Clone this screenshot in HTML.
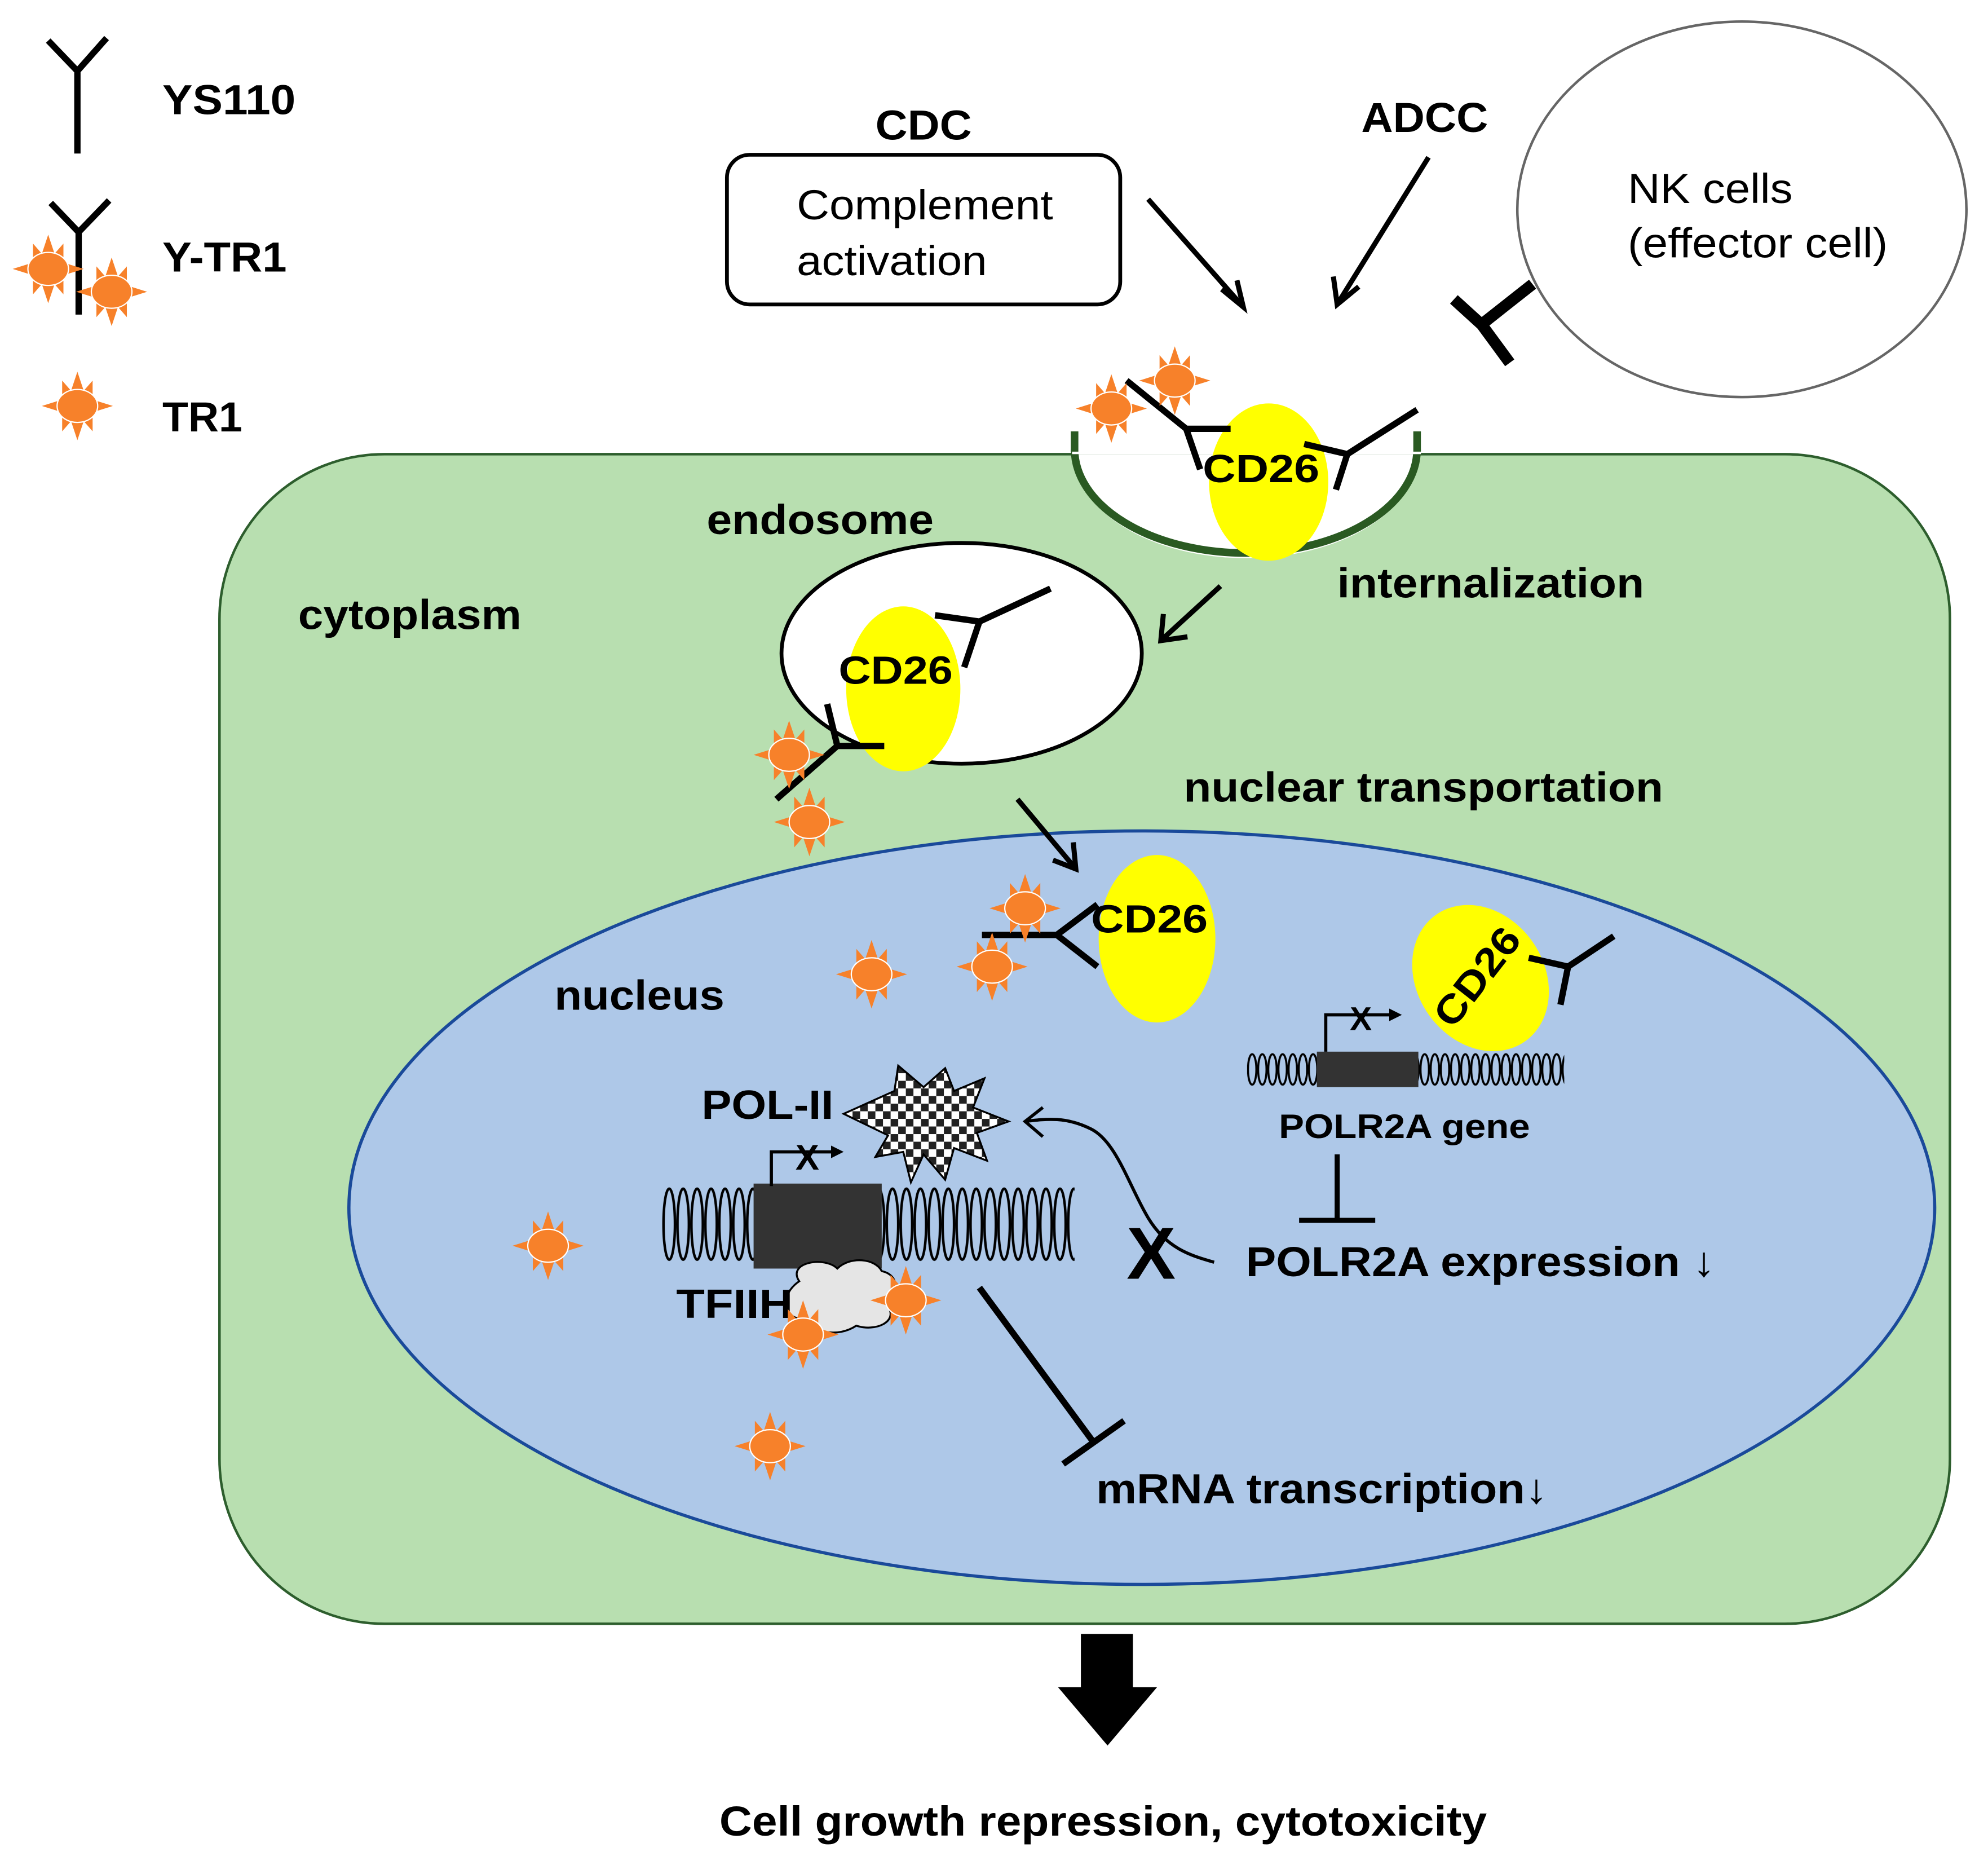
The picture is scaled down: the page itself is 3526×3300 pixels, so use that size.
<!DOCTYPE html>
<html><head><meta charset="utf-8"><style>html,body{margin:0;padding:0;background:#fff}svg{display:block}</style></head>
<body>
<svg width="3526" height="3300" viewBox="0 0 1567 1467" preserveAspectRatio="none" xmlns="http://www.w3.org/2000/svg" font-family="Liberation Sans, Arial, sans-serif">
<defs>
<g id="star">
<polygon points="0,-27 5,-12 12,-20 12,-5 28,0 12,5 12,20 5,12 0,27 -5,12 -12,20 -12,5 -28,0 -12,-5 -12,-20 -5,-12" fill="#f7812a"/>
<ellipse cx="0" cy="0" rx="16" ry="13" fill="#f7812a" stroke="#fff" stroke-width="1"/>
</g>
<pattern id="helixBig" patternUnits="userSpaceOnUse" x="522" y="935" width="11" height="60">
<ellipse cx="5.5" cy="30" rx="4.5" ry="28" fill="none" stroke="#000" stroke-width="2"/>
</pattern>
<pattern id="helixSmall" patternUnits="userSpaceOnUse" x="983" y="829" width="8" height="28">
<ellipse cx="4" cy="14" rx="3.3" ry="12" fill="none" stroke="#000" stroke-width="1.6"/>
</pattern>
<pattern id="check" patternUnits="userSpaceOnUse" width="12" height="12">
<rect width="12" height="12" fill="#fff"/><rect width="6" height="6" fill="#222"/><rect x="6" y="6" width="6" height="6" fill="#222"/>
</pattern>
<marker id="tri" viewBox="0 0 10 10" refX="5" refY="5" markerWidth="4" markerHeight="4" orient="auto"><path d="M0,0 L10,5 L0,10z" fill="#000"/></marker>
</defs>

<!-- legend -->
<g stroke="#000" stroke-width="5" fill="none">
<path d="M38,32 L61,56 L84,30 M61,56 L61,121"/>
<path d="M40,160 L62,183 L86,158 M62,183 L62,248"/>
</g>
<use href="#star" x="38" y="212"/>
<use href="#star" x="88" y="230"/>
<use href="#star" x="61" y="320"/>
<g font-weight="bold" font-size="33" fill="#000">
<text x="128" y="90" textLength="105" lengthAdjust="spacingAndGlyphs">YS110</text>
<text x="128" y="214" textLength="98" lengthAdjust="spacingAndGlyphs">Y-TR1</text>
<text x="128" y="340" textLength="63" lengthAdjust="spacingAndGlyphs">TR1</text>
</g>

<!-- NK cell -->
<ellipse cx="1373" cy="165" rx="177" ry="148" fill="#fff" stroke="#666" stroke-width="2"/>
<text x="1283" y="160" font-size="33" textLength="130" lengthAdjust="spacingAndGlyphs">NK cells</text>
<text x="1283" y="203" font-size="33" textLength="205" lengthAdjust="spacingAndGlyphs">(effector cell)</text>
<path d="M1208,224 L1170,254 M1146,236 L1168,256 L1190,286" stroke="#000" stroke-width="9" fill="none"/>

<!-- complement -->
<rect x="573" y="122" width="310" height="118" rx="18" fill="#fff" stroke="#000" stroke-width="3"/>
<text x="628" y="173" font-size="33" textLength="202" lengthAdjust="spacingAndGlyphs">Complement</text>
<text x="628" y="217" font-size="33" textLength="150" lengthAdjust="spacingAndGlyphs">activation</text>
<text x="690" y="110" font-size="33" font-weight="bold" textLength="76" lengthAdjust="spacingAndGlyphs">CDC</text>
<text x="1073" y="104" font-size="33" font-weight="bold" textLength="100" lengthAdjust="spacingAndGlyphs">ADCC</text>
<g stroke="#000" stroke-width="4" fill="none">
<path d="M905,157 L980,242"/><path d="M963,228 L980,242 L975,221"/>
<path d="M1126,124 L1054,240"/><path d="M1051,218 L1054,240 L1071,226"/>
</g>

<!-- cell -->
<rect x="173" y="358" width="1364" height="922" rx="130" fill="#b8dfb0" stroke="#2d5e2d" stroke-width="2"/>
<path d="M847,358 A135,82 0 0 0 1117,358 Z" fill="#fff" stroke="none"/>
<path d="M847,354 A135,82 0 0 0 1117,354" fill="none" stroke="#2a5a22" stroke-width="6"/>
<rect x="845" y="300" width="275" height="58" fill="#fff"/>
<path d="M847,340 L847,356 M1117,340 L1117,356" stroke="#2a5a22" stroke-width="6"/>

<!-- nucleus -->
<ellipse cx="900" cy="952" rx="625" ry="297" fill="#aec8e8" stroke="#1a4a9a" stroke-width="2.5"/>

<!-- endosome -->
<ellipse cx="758" cy="515" rx="142" ry="87" fill="#fff" stroke="#000" stroke-width="3"/>

<g font-weight="bold" font-size="33" fill="#000">
<text x="235" y="496" textLength="176" lengthAdjust="spacingAndGlyphs">cytoplasm</text>
<text x="557" y="421" textLength="179" lengthAdjust="spacingAndGlyphs">endosome</text>
<text x="1054" y="471" textLength="242" lengthAdjust="spacingAndGlyphs">internalization</text>
<text x="933" y="632" textLength="378" lengthAdjust="spacingAndGlyphs">nuclear transportation</text>
<text x="437" y="796" textLength="134" lengthAdjust="spacingAndGlyphs">nucleus</text>
</g>

<!-- membrane CD26 -->
<ellipse cx="1000" cy="380" rx="47" ry="62" fill="#ffff00"/>
<g stroke="#000" stroke-width="5" fill="none">
<path d="M888,300 L935,338 L970,338 M935,338 L946,370"/>
<path d="M1117,323 L1062,358 L1028,350 M1062,358 L1053,386"/>
</g>
<use href="#star" x="876" y="322"/>
<use href="#star" x="926" y="300"/>
<text x="948" y="380" font-size="31" font-weight="bold" textLength="92" lengthAdjust="spacingAndGlyphs">CD26</text>
<path d="M962,462 L915,505" stroke="#000" stroke-width="4"/><path d="M917,484 L915,505 L936,502" stroke="#000" stroke-width="4" fill="none"/>

<!-- endosome CD26 -->
<ellipse cx="712" cy="543" rx="45" ry="65" fill="#ffff00"/>
<g stroke="#000" stroke-width="5" fill="none">
<path d="M828,464 L772,490 L737,485 M772,490 L760,526"/>
<path d="M612,630 L660,588 L697,588 M660,588 L652,555"/>
</g>
<use href="#star" x="622" y="595"/>
<use href="#star" x="638" y="648"/>
<text x="661" y="539" font-size="31" font-weight="bold" textLength="90" lengthAdjust="spacingAndGlyphs">CD26</text>
<path d="M802,630 L848,685" stroke="#000" stroke-width="4"/><path d="M830,678 L848,685 L846,664" stroke="#000" stroke-width="4" fill="none"/>

<!-- nucleus CD26 1 -->
<ellipse cx="912" cy="740" rx="46" ry="66" fill="#ffff00"/>
<g stroke="#000" stroke-width="5" fill="none">
<path d="M774,737 L833,737 M833,737 L865,713 M833,737 L865,762"/>
</g>
<use href="#star" x="808" y="716"/>
<use href="#star" x="782" y="762"/>
<use href="#star" x="687" y="768"/>
<text x="860" y="735" font-size="31" font-weight="bold" textLength="92" lengthAdjust="spacingAndGlyphs">CD26</text>

<!-- nucleus CD26 2 -->
<ellipse cx="1167" cy="771" rx="50" ry="61" transform="rotate(-35 1167 771)" fill="#ffff00"/>
<g stroke="#000" stroke-width="5" fill="none">
<path d="M1205,755 L1236,762 L1272,738 M1236,762 L1230,792"/>
</g>
<text x="0" y="0" font-size="31" font-weight="bold" transform="translate(1145,812) rotate(-52)" textLength="90" lengthAdjust="spacingAndGlyphs">CD26</text>

<!-- small gene -->
<rect x="983" y="829" width="250" height="28" fill="url(#helixSmall)"/>
<rect x="1038" y="829" width="80" height="28" fill="#333"/>
<path d="M1045,829 L1045,800 L1100,800" stroke="#000" stroke-width="2.5" fill="none" marker-end="url(#tri)"/>
<text x="1064" y="812" font-size="26" font-weight="bold">X</text>
<text x="1008" y="897" font-size="27" font-weight="bold" textLength="198" lengthAdjust="spacingAndGlyphs">POLR2A gene</text>
<path d="M1054,910 L1054,962 M1024,962 L1084,962" stroke="#000" stroke-width="4"/>
<text x="982" y="1006" font-size="33" font-weight="bold" textLength="370" lengthAdjust="spacingAndGlyphs">POLR2A expression ↓</text>

<!-- big gene -->
<rect x="522" y="935" width="325" height="60" fill="url(#helixBig)"/>
<rect x="594" y="933" width="101" height="67" fill="#333"/>
<path d="M608,935 L608,908 L660,908" stroke="#000" stroke-width="2.5" fill="none" marker-end="url(#tri)"/>
<text x="627" y="922" font-size="28" font-weight="bold">X</text>
<text x="553" y="882" font-size="32" font-weight="bold" textLength="104" lengthAdjust="spacingAndGlyphs">POL-II</text>
<polygon points="665,878 705,860 708,840 728,857 745,842 752,860 776,850 767,873 795,884 770,893 778,915 752,905 745,930 728,910 718,932 712,908 690,912 700,895" fill="url(#check)" stroke="#000" stroke-width="1.5"/>
<path d="M957,995 C940,990 920,985 905,960 C890,935 880,900 860,890 C840,880 825,882 808,884" stroke="#000" stroke-width="2.5" fill="none"/>
<path d="M822,873 L808,884 L822,896" stroke="#000" stroke-width="2.5" fill="none"/>
<text x="888" y="1008" font-size="58" font-weight="bold">X</text>
<!-- cloud -->
<path d="M630,1010 C620,995 650,990 660,1000 C670,990 690,992 695,1002 C710,1005 708,1022 700,1030 C708,1042 690,1050 675,1045 C660,1055 640,1050 635,1040 C615,1040 615,1020 630,1010Z" fill="#e5e5e5" stroke="#000" stroke-width="1.5"/>
<text x="533" y="1039" font-size="32" font-weight="bold" textLength="92" lengthAdjust="spacingAndGlyphs">TFIIH</text>
<use href="#star" x="714" y="1025"/>
<use href="#star" x="633" y="1052"/>
<use href="#star" x="432" y="982"/>
<use href="#star" x="607" y="1140"/>
<path d="M772,1015 L862,1137 M838,1154 L886,1120" stroke="#000" stroke-width="5"/>
<text x="864" y="1185" font-size="33" font-weight="bold" textLength="356" lengthAdjust="spacingAndGlyphs">mRNA transcription↓</text>

<!-- bottom -->
<rect x="852" y="1288" width="41" height="44" fill="#000"/>
<polygon points="834,1330 912,1330 873,1376" fill="#000"/>
<text x="567" y="1447" font-size="33" font-weight="bold" textLength="605" lengthAdjust="spacingAndGlyphs">Cell growth repression, cytotoxicity</text>
</svg>
</body></html>
